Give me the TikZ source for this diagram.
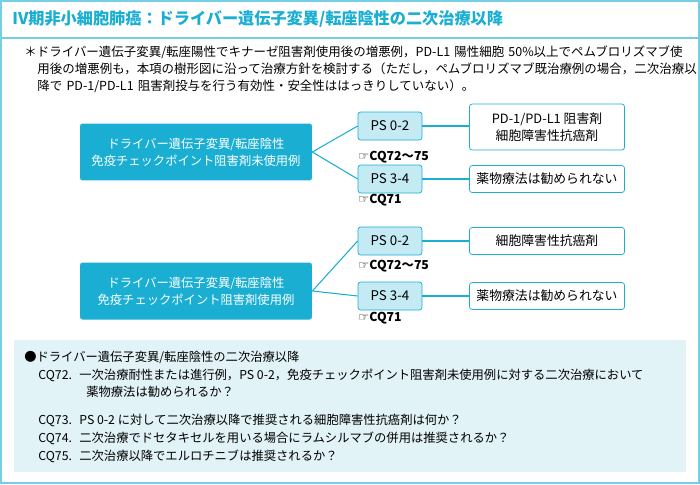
\documentclass[tikz,border=0pt]{standalone}
\usepackage{fontspec}
\setmainfont{Noto Sans CJK JP}
\newfontfamily\symfont{DejaVu Sans}
\usetikzlibrary{positioning}
\definecolor{cyanmain}{HTML}{1AAED3}
\definecolor{cyanlight}{HTML}{C4EAF4}
\definecolor{panelbg}{HTML}{E2F3F8}
\newcommand{\cqref}[1]{{\symfont\char"261E}\textbf{#1}}
\begin{document}
\begin{tikzpicture}[
    x=0.02cm, y=-0.02cm,
    every node/.style={font=\fontsize{7}{9.6}\selectfont, inner sep=0pt},
    mainbox/.style={fill=cyanmain, rounded corners=1.5pt, minimum width=4.64cm, minimum height=1.14cm, text=white, align=center},
    psbox/.style={draw=cyanmain, fill=cyanlight, rounded corners=1.5pt, minimum width=1.28cm, minimum height=0.56cm, font=\fontsize{7.6}{9}\selectfont},
    resbox/.style={draw=cyanmain, fill=white, rounded corners=1.5pt, minimum width=3.1cm, align=center, font=\fontsize{7.3}{9.6}\selectfont},
    link/.style={cyanmain, semithick}
]
    % frame and title
    \useasboundingbox (0,0) rectangle (700,484);
    \draw[cyanmain!60, line width=1pt] (1,1) rectangle (699,483);
    \draw[cyanmain!60, line width=1pt] (1,38) -- (699,38);
    \node[anchor=west, text=cyanmain, font=\fontsize{9.2}{10}\selectfont\bfseries] (title) at (12,19)
        {IV期非小細胞肺癌：ドライバー遺伝子変異/転座陰性の二次治療以降};

    % note
    \node[anchor=north west, text width=13.2cm, align=left, font=\fontsize{7.1}{9.8}\selectfont] (note) at (24,45)
        {＊ドライバー遺伝子変異/転座陽性でキナーゼ阻害剤使用後の増悪例，PD-L1 陽性細胞 50\%以上でペムブロリズマブ使\\
        \hspace*{1.05em}用後の増悪例も，本項の樹形図に沿って治療方針を検討する（ただし，ペムブロリズマブ既治療例の場合，二次治療以\\
        \hspace*{1.05em}降で PD-1/PD-L1 阻害剤投与を行う有効性・安全性ははっきりしていない）。};

    % group 1
    \node[mainbox] (naive) at (196,152) {ドライバー遺伝子変異/転座陰性\\免疫チェックポイント阻害剤未使用例};
    \node[psbox] (ps1a) at (390,126) {PS 0-2};
    \node[psbox] (ps1b) at (390,179) {PS 3-4};
    \node[resbox, minimum height=0.92cm] (res1a) at (547,127) {PD-1/PD-L1 阻害剤\\細胞障害性抗癌剤};
    \node[resbox, minimum height=0.54cm] (res1b) at (547,179) {薬物療法は勧められない};
    \node[anchor=west] (cq1a) at (358,157) {\cqref{CQ72〜75}};
    \node[anchor=west] (cq1b) at (358,200) {\cqref{CQ71}};
    \draw[link] (naive.east) -- (ps1a.west);
    \draw[link] (naive.east) -- (ps1b.west);
    \draw[link] (ps1a) -- (res1a.west |- ps1a);
    \draw[link] (ps1b) -- (res1b);

    % group 2
    \node[mainbox] (used) at (196,291) {ドライバー遺伝子変異/転座陰性\\免疫チェックポイント阻害剤使用例};
    \node[psbox] (ps2a) at (390,241) {PS 0-2};
    \node[psbox] (ps2b) at (390,296) {PS 3-4};
    \node[resbox, minimum height=0.54cm] (res2a) at (547,241) {細胞障害性抗癌剤};
    \node[resbox, minimum height=0.54cm] (res2b) at (547,296) {薬物療法は勧められない};
    \node[anchor=west] (cq2a) at (358,266) {\cqref{CQ72〜75}};
    \node[anchor=west] (cq2b) at (358,318) {\cqref{CQ71}};
    \draw[link] (used.east) -- (ps2a.west);
    \draw[link] (used.east) -- (ps2b.west);
    \draw[link] (ps2a) -- (res2a);
    \draw[link] (ps2b) -- (res2b);

    % CQ panel
    \fill[panelbg] (14,340) rectangle (686,472);
    \node[anchor=west] (cqhead) at (24,357) {●ドライバー遺伝子変異/転座陰性の二次治療以降};
    \node[anchor=west] (q72) at (38,375) {CQ72.\hspace{0.6em}一次治療耐性または進行例，PS 0-2，免疫チェックポイント阻害剤未使用例に対する二次治療において};
    \node[anchor=west] (q72b) at (86,392) {薬物療法は勧められるか？};
    \node[anchor=west] (q73) at (38,420) {CQ73.\hspace{0.6em}PS 0-2 に対して二次治療以降で推奨される細胞障害性抗癌剤は何か？};
    \node[anchor=west] (q74) at (38,438) {CQ74.\hspace{0.6em}二次治療でドセタキセルを用いる場合にラムシルマブの併用は推奨されるか？};
    \node[anchor=west] (q75) at (38,456) {CQ75.\hspace{0.6em}二次治療以降でエルロチニブは推奨されるか？};
\end{tikzpicture}
\end{document}
